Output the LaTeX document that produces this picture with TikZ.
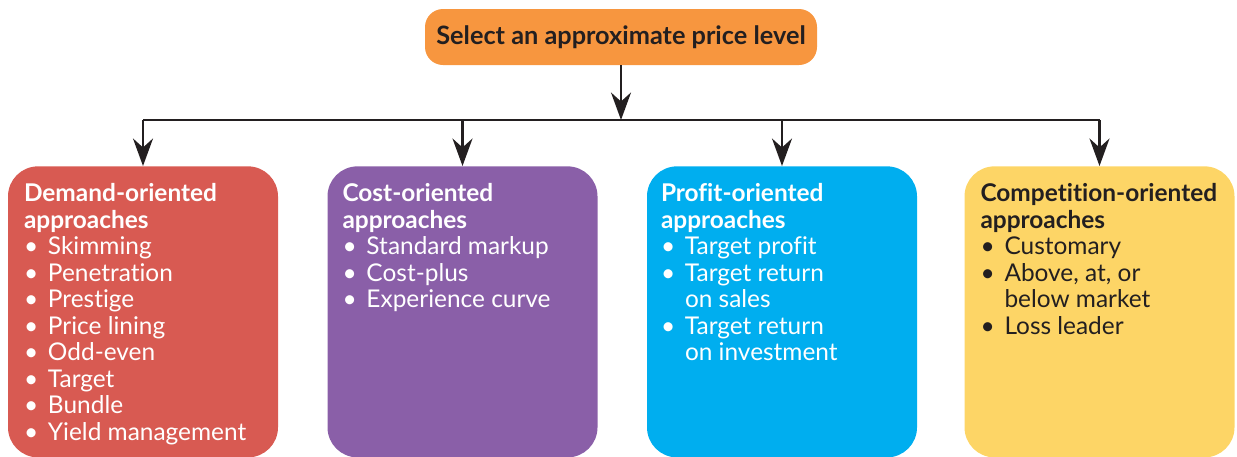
\documentclass[tikz,border=0pt]{standalone}
\usepackage{fontspec}
\setmainfont{Lato}[Ligatures=NoCommon]
\usetikzlibrary{arrows.meta,positioning}

\definecolor{c_orange}{HTML}{F7963F}
\definecolor{c_red}{HTML}{D85A52}
\definecolor{c_purple}{HTML}{8A5FA8}
\definecolor{c_blue}{HTML}{00AEEF}
\definecolor{c_yellow}{HTML}{FDD566}
\definecolor{c_ink}{HTML}{231F20}

% one bullet line, and a wrapped line under it
\newcommand{\itm}[1]{\makebox[0.48cm][l]{\textbullet}#1}
\newcommand{\cont}[1]{\hspace*{0.48cm}#1}

\begin{document}
\begin{tikzpicture}
        \tikzstyle{top_box}=[fill=c_orange, rounded corners=0.36cm, minimum width=7.84cm, minimum height=1.12cm, text=c_ink, font=\fontsize{14.4}{15.1}\selectfont\bfseries];
        \tikzstyle{price_box}=[rounded corners=0.6cm, minimum width=5.4cm, minimum height=5.82cm, anchor=north];
        \tikzstyle{box_text}=[anchor=north west, inner sep=0pt, align=left, font=\fontsize{13.9}{15.1}\selectfont];
        \tikzstyle{myedge}=[line width=1.4pt, color=c_ink, -{Stealth[length=5.5mm, width=4mm, inset=1.8mm]}];

        \useasboundingbox (0,0) rectangle (24.74,-9.12);

        % top step
        \node[top_box] (sel) at (12.42,-0.74) {Select an approximate price level};

        % the four groups
        \node[price_box, fill=c_red] (dem) at (2.86,-3.32) {};
        \node[price_box, fill=c_purple] (cost) at (9.25,-3.32) {};
        \node[price_box, fill=c_blue] (prof) at (15.64,-3.32) {};
        \node[price_box, fill=c_yellow] (comp) at (21.99,-3.32) {};

        \node[box_text, text=white] (dem_txt) at ([shift={(0.32,-0.34)}]dem.north west)
          {\textbf{Demand-oriented}\\ \textbf{approaches}\\ \itm{Skimming}\\ \itm{Penetration}\\
           \itm{Prestige}\\ \itm{Price lining}\\ \itm{Odd-even}\\ \itm{Target}\\ \itm{Bundle}\\
           \itm{Yield management}};
        \node[box_text, text=white] (cost_txt) at ([shift={(0.30,-0.34)}]cost.north west)
          {\textbf{Cost-oriented}\\ \textbf{approaches}\\ \itm{Standard markup}\\ \itm{Cost-plus}\\
           \itm{Experience curve}};
        \node[box_text, text=white] (prof_txt) at ([shift={(0.28,-0.34)}]prof.north west)
          {\textbf{Profit-oriented}\\ \textbf{approaches}\\ \itm{Target profit}\\ \itm{Target return}\\
           \cont{on sales}\\ \itm{Target return}\\ \cont{on investment}};
        \node[box_text, text=c_ink] (comp_txt) at ([shift={(0.32,-0.34)}]comp.north west)
          {\textbf{Competition-oriented}\\ \textbf{approaches}\\ \itm{Customary}\\ \itm{Above, at, or}\\
           \cont{below market}\\ \itm{Loss leader}};

        % connectors
        \coordinate (bus) at (0,-2.4);
        \draw[myedge] (sel) -- (sel |- bus);
        \draw[line width=1.4pt, color=c_ink] (dem.north |- bus) -- (comp.north |- bus);
        \foreach \b in {dem, cost, prof, comp}{
          \draw[myedge] (\b.north |- bus) -- (\b.north);
        }
\end{tikzpicture}
\end{document}
